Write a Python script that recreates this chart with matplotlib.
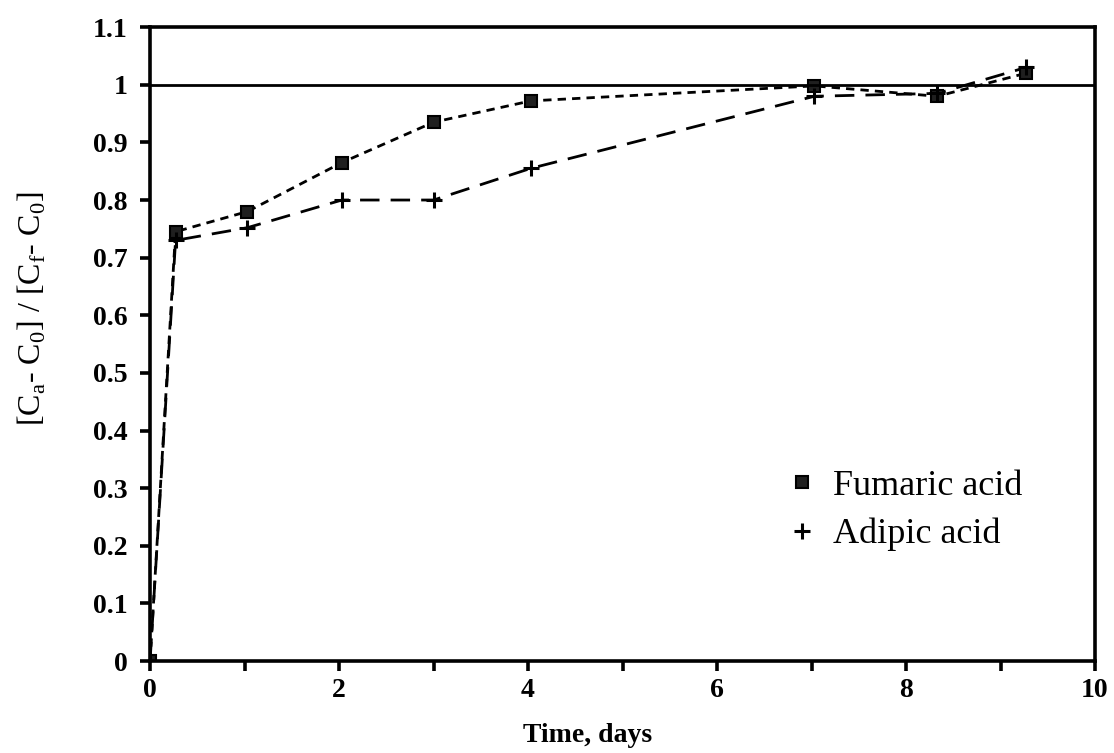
import numpy as np
import matplotlib.pyplot as plt
from matplotlib.ticker import MultipleLocator, FuncFormatter

# time points, days
days = [0, 0.27, 1.03, 2.03, 3.0, 4.03, 7.03, 8.33, 9.27]
fumaric = [0, 0.745, 0.78, 0.865, 0.935, 0.972, 0.998, 0.98, 1.02]
adipic = [0, 0.73, 0.752, 0.80, 0.80, 0.855, 0.98, 0.985, 1.03]

plt.rcParams['font.family'] = ['Liberation Serif', 'DejaVu Serif']

fig = plt.figure(figsize=(11.14, 7.53), dpi=100)
ax = fig.add_axes([0.1347, 0.122, 0.8483, 0.842])

ax.plot(days, fumaric, color='black', lw=2.0, ls=(0, (3.0, 2.2)))
ax.plot(days, adipic, color='black', lw=2.0, ls=(0, (7.0, 4.0)))
ax.plot(days, fumaric, ls='none', marker='s', ms=8, mfc='0.12', mec='black',
        mew=1.5, label='Fumaric acid')
ax.plot(days, adipic, ls='none', marker='+', ms=12, mec='black', mew=2.2,
        label='Adipic acid')

ax.axhline(1.0, color='black', lw=2.0)

ax.set_xlim(0, 10)
ax.set_ylim(0, 1.1)
ax.xaxis.set_major_locator(MultipleLocator(2))
ax.xaxis.set_minor_locator(MultipleLocator(1))
ax.yaxis.set_major_locator(MultipleLocator(0.1))
ax.yaxis.set_major_formatter(FuncFormatter(lambda v, p: f'{v:g}'))

for s in ax.spines.values():
    s.set_linewidth(2.6)
ax.tick_params(which='major', direction='out', length=7, width=2.6,
               labelsize=20)
ax.tick_params(axis='y', which='major', pad=9)
ax.tick_params(axis='x', which='major', pad=5)
ax.tick_params(which='minor', direction='out', length=7, width=2.6)
for lab in ax.get_xticklabels() + ax.get_yticklabels():
    lab.set_fontweight('bold')

ax.set_xlabel('Time, days', fontsize=20, fontweight='bold')
ax.xaxis.set_label_coords(0.463, -0.098)
ax.set_ylabel(r'[C$_\mathregular{a}$- C$_\mathregular{0}$] / [C$_\mathregular{f}$- C$_\mathregular{0}$]',
              fontsize=23)
ax.yaxis.set_label_coords(-0.108, 0.555)

ax.legend(loc='center left', bbox_to_anchor=(0.636, 0.238), frameon=False,
          fontsize=26, handlelength=1.0, handletextpad=0.38, labelspacing=0.42)

fig.savefig('out.png', dpi=100)
